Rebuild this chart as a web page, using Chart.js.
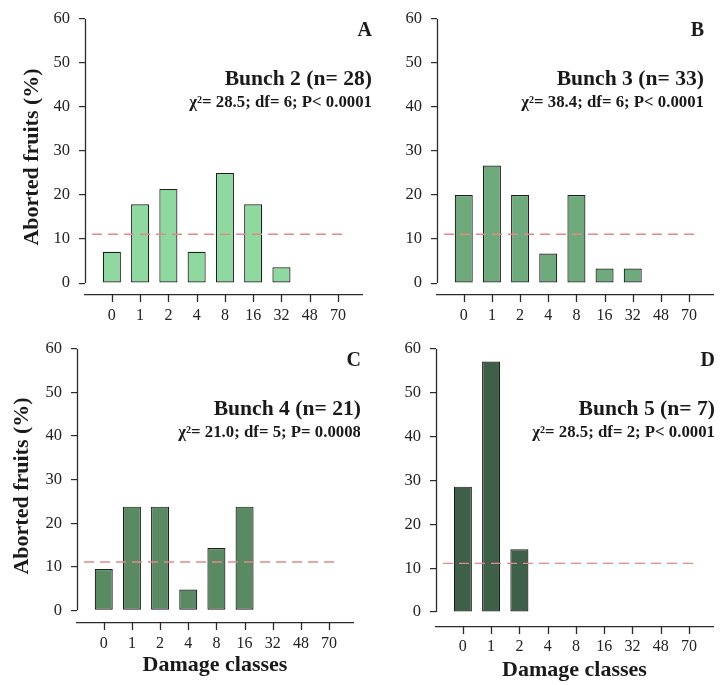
<!DOCTYPE html>
<html><head><meta charset="utf-8">
<script src="https://cdn.jsdelivr.net/npm/chart.js@4.4.1/dist/chart.umd.min.js"></script>
<style>
html,body{margin:0;padding:0;background:#fff;width:720px;height:685px;overflow:hidden}
canvas{position:absolute}
</style></head><body>
<canvas id="cA" width="375" height="330" style="left:0;top:0"></canvas>
<canvas id="cB" width="360" height="330" style="left:360px;top:0"></canvas>
<canvas id="cC" width="360" height="355" style="left:0;top:330px"></canvas>
<canvas id="cD" width="360" height="355" style="left:360px;top:330px"></canvas>
<script>
// ---- data ----
const categories = ['0','1','2','4','8','16','32','48','70'];
const bunch2 = [7.1, 17.9, 21.4, 7.1, 25.0, 17.9, 3.6, null, null];
const bunch3 = [20.0, 26.7, 20.0, 6.7, 20.0, 3.3, 3.3, null, null];
const bunch4 = [9.5, 23.8, 23.8, 4.8, 14.3, 23.8, null, null, null];
const bunch5 = [28.6, 57.1, 14.3, null, null, null, null, null, null];
const yTicks = [0, 10, 20, 30, 40, 50, 60];
const expectedPct = 11.1;
const panelLetters = ['A', 'B', 'C', 'D'];
const bunchTitles = ['Bunch 2 (n= 28)', 'Bunch 3 (n= 33)', 'Bunch 4 (n= 21)', 'Bunch 5 (n= 7)'];
const statsLines = ['χ²= 28.5; df= 6; P< 0.0001', 'χ²= 38.4; df= 6; P< 0.0001', 'χ²= 21.0; df= 5; P= 0.0008', 'χ²= 28.5; df= 2; P< 0.0001'];
const yTitle = 'Aborted fruits (%)';
const xTitle = 'Damage classes';

const SERIF = "'Liberation Serif','Times New Roman',serif";
const AXC = '#2b2b2b';
const X_TICK_LEN = 7;

const deco = {
  id: 'deco',
  beforeDatasetsDraw(chart) {
    const ctx = chart.ctx, y = chart.scales.y, x = chart.scales.x, a = chart.chartArea;
    const x0 = Math.round(a.left) + 0.5;
    ctx.save();
    ctx.strokeStyle = AXC; ctx.lineWidth = 1.3;
    ctx.beginPath();
    ctx.moveTo(x0, y.getPixelForValue(yTicks[0]));
    ctx.lineTo(x0, y.getPixelForValue(yTicks[yTicks.length - 1]));
    ctx.stroke();
    // x tick marks below the x axis line
    ctx.beginPath();
    categories.forEach((c, i) => {
      const px = Math.round(x.getPixelForValue(i)) + 0.5;
      ctx.moveTo(px, a.bottom);
      ctx.lineTo(px, a.bottom + X_TICK_LEN);
    });
    ctx.stroke();
    ctx.restore();
  },
  afterDatasetsDraw(chart) {
    const ctx = chart.ctx, a = chart.chartArea, y = chart.scales.y;
    const py = y.getPixelForValue(expectedPct);
    ctx.save();
    ctx.strokeStyle = '#e08a8a'; ctx.lineWidth = 1.4; ctx.setLineDash([10, 6]);
    ctx.beginPath(); ctx.moveTo(a.left + 7, py); ctx.lineTo(a.right - 16, py); ctx.stroke();
    ctx.restore();
  },
  afterDraw(chart, args, o) {
    const ctx = chart.ctx, top = chart.chartArea.top;
    ctx.save();
    ctx.fillStyle = '#1a1a1a'; ctx.textAlign = 'right'; ctx.textBaseline = 'middle';
    ctx.font = 'bold 20px ' + SERIF; ctx.fillText(o.letter, o.right, top + 12);
    ctx.font = 'bold 21.6px ' + SERIF; ctx.fillText(o.title, o.right, top + 61);
    ctx.font = 'bold 16.8px ' + SERIF; ctx.fillText(o.stats, o.right, top + 84);
    ctx.restore();
  }
};

function makeChart(id, idx, values, color, cfg) {
  return new Chart(document.getElementById(id), {
    type: 'bar',
    data: {
      datasets: [{
        data: values.map((v, i) => ({x: i, y: v})),
        backgroundColor: color,
        borderColor: '#1e1e1e',
        borderWidth: 1.2,
        borderSkipped: false,
        barPercentage: 0.64,
        categoryPercentage: 1
      }]
    },
    plugins: [deco],
    options: {
      responsive: false,
      animation: false,
      events: [],
      layout: {padding: {top: cfg.top, right: cfg.right, left: 0, bottom: 0}},
      plugins: {
        legend: {display: false},
        tooltip: {enabled: false},
        deco: {letter: panelLetters[idx], title: bunchTitles[idx], stats: statsLines[idx], right: cfg.textRight}
      },
      scales: {
        x: {
          type: 'linear',
          offset: false,
          min: -0.95, max: 8.85,
          afterBuildTicks: s => { s.ticks = categories.map((c, i) => ({value: i})); },
          afterFit: s => { s.height = cfg.xh; },
          grid: {display: false, drawTicks: false, offset: false},
          border: {display: true, color: AXC, width: 1.2},
          ticks: {
            callback: v => categories[v],
            font: {family: SERIF, size: 16}, color: '#222',
            padding: X_TICK_LEN + cfg.xpad, maxRotation: 0, autoSkip: false
          },
          title: {display: cfg.xTitle, text: xTitle, font: {family: SERIF, size: 22, weight: 'bold'}, color: '#1a1a1a', padding: {top: 0, bottom: cfg.xtpad}}
        },
        y: {
          min: cfg.ymin, max: 60,
          afterBuildTicks: s => { s.ticks = yTicks.map(v => ({value: v})); },
          afterFit: s => { s.width = cfg.yw; },
          grid: {drawOnChartArea: false, drawTicks: true, tickLength: 6, color: AXC, lineWidth: 1.2},
          border: {display: false},
          ticks: {font: {family: SERIF, size: 16.5}, color: '#222', padding: 9},
          title: {display: cfg.yTitle, text: yTitle, font: {family: SERIF, size: 22, weight: 'bold'}, color: '#1a1a1a', padding: {top: cfg.ytpad, bottom: 0}}
        }
      }
    }
  });
}

makeChart('cA', 0, bunch2, '#8fd8a0', {top: 16, right: 13, xh: 35, yw: 85, ymin: -2.7, xpad: 4, xTitle: false, yTitle: true, ytpad: 19, xtpad: 0, textRight: 372});
makeChart('cB', 1, bunch3, '#6eaa7c', {top: 15, right: 7, xh: 35, yw: 77, ymin: -2.7, xpad: 4, xTitle: false, yTitle: false, ytpad: 0, xtpad: 0, textRight: 344});
makeChart('cC', 2, bunch4, '#5a8a62', {top: 13, right: 7, xh: 62, yw: 77, ymin: -2.9, xpad: 4, xTitle: true, yTitle: true, ytpad: 9, xtpad: 6, textRight: 361});
makeChart('cD', 3, bunch5, '#3f6048', {top: 15, right: 7, xh: 58, yw: 76, ymin: -3.4, xpad: 3, xTitle: true, yTitle: false, ytpad: 0, xtpad: 1, textRight: 355});
</script>
</body></html>
